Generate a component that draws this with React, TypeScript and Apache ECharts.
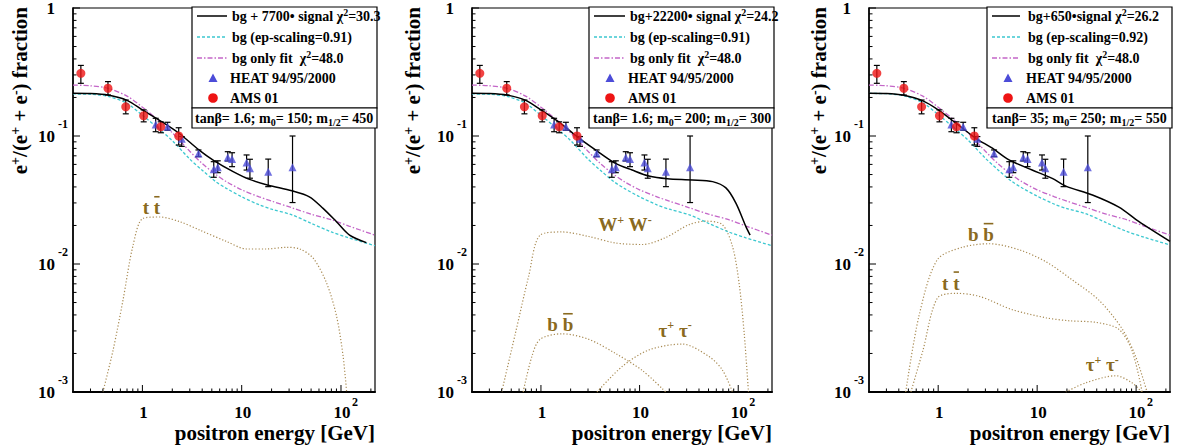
import React, { useEffect, useRef } from "react";
import * as echarts from "echarts";

const SERIF = '"Liberation Serif", "Times New Roman", Times, serif';
const X_MIN = 0.2;
const X_MAX = 220;
const Y_MIN = 0.001;
const Y_MAX = 1;

const BLUE = "#4c4cd8";
const RED = "#ee1414";
const CYAN = "#3cc8d0";
const MAGENTA = "#c466c8";
const BROWN_LINE = "#a88a52";
const BROWN_TEXT = "#8a6a20";

// AMS 01 positron fraction
const AMS_E = [0.24, 0.45, 0.68, 1.03, 1.53, 2.32];
const AMS_F = [0.309, 0.236, 0.169, 0.144, 0.118, 0.1];
const AMS_LO = [0.258, 0.209, 0.149, 0.129, 0.106, 0.085];
const AMS_HI = [0.356, 0.266, 0.191, 0.16, 0.129, 0.116];

// HEAT 94/95/2000 positron fraction
const HEAT_E = [1.36, 1.79, 2.49, 3.67, 5.23, 5.74, 7.24, 8.0, 11.2, 12.1, 18.5, 32.5];
const HEAT_F = [0.123, 0.118, 0.095, 0.073, 0.055, 0.057, 0.068, 0.066, 0.062, 0.056, 0.0526, 0.057];
const HEAT_LO = [0.108, 0.111, 0.083, 0.069, 0.0476, 0.0517, 0.0638, 0.0576, 0.0542, 0.0468, 0.0402, 0.0302];
const HEAT_HI = [0.1375, 0.128, 0.099, 0.0778, 0.063, 0.064, 0.0754, 0.074, 0.0711, 0.0658, 0.066, 0.1];

// background curves
const BG_E = [0.2, 0.3, 0.45, 0.7, 1.0, 1.5, 2.0, 3.0, 4.0, 5.5, 7.0, 10, 15, 20, 32, 50, 80, 120, 220];
const BG91_F = [0.213, 0.212, 0.204, 0.18, 0.145, 0.112, 0.092, 0.066, 0.054, 0.0439, 0.039, 0.0335, 0.029, 0.0268, 0.0242, 0.0208, 0.0178, 0.016, 0.0139];
const BG92_F = [0.215, 0.214, 0.206, 0.182, 0.147, 0.113, 0.093, 0.067, 0.0546, 0.0444, 0.0394, 0.0339, 0.0293, 0.0271, 0.0245, 0.021, 0.018, 0.0162, 0.0141];
const BGFIT_F = [0.25, 0.247, 0.236, 0.205, 0.168, 0.13, 0.106, 0.076, 0.061, 0.05, 0.044, 0.038, 0.0335, 0.031, 0.0275, 0.0245, 0.0222, 0.0198, 0.0168];

// tanβ = 1.6, m0 = 150, m1/2 = 450
const SIG1_E = [0.2, 0.3, 0.45, 0.7, 1.0, 1.5, 2.3, 3.7, 5.2, 8.2, 12, 18.5, 32, 48, 66, 90, 122, 180];
const SIG1_F = [0.216, 0.215, 0.209, 0.19, 0.16, 0.132, 0.106, 0.078, 0.0646, 0.0527, 0.0458, 0.0413, 0.0373, 0.0335, 0.0272, 0.0214, 0.0168, 0.0147];
const TT1_E = [0.4, 0.505, 0.637, 0.8, 1.01, 1.49, 2.38, 3.78, 7.03, 11.2, 17.8, 28.3, 38.5, 52.5, 71.6, 90.3, 105, 114];
const TT1_F = [0.001, 0.0021, 0.0052, 0.0137, 0.0227, 0.0233, 0.0214, 0.0184, 0.015, 0.0131, 0.0131, 0.0135, 0.0131, 0.0111, 0.0071, 0.0039, 0.0019, 0.001];

// tanβ = 1.6, m0 = 200, m1/2 = 300
const SIG2_E = [0.2, 0.3, 0.45, 0.7, 1.0, 1.51, 2.32, 3.57, 5.7, 8.4, 12.4, 19.1, 34.3, 55, 75, 95, 120, 132];
const SIG2_F = [0.216, 0.215, 0.209, 0.19, 0.16, 0.129, 0.099, 0.078, 0.0611, 0.0542, 0.0487, 0.0464, 0.0454, 0.044, 0.0393, 0.0298, 0.0195, 0.0168];
const WW2_E = [0.4, 0.55, 0.75, 0.98, 1.63, 3.05, 5.7, 10.7, 18.4, 31.7, 46.9, 69, 87.5, 102, 115, 127];
const WW2_F = [0.001, 0.00286, 0.008, 0.0168, 0.0178, 0.0164, 0.0146, 0.0142, 0.0161, 0.0203, 0.0216, 0.0203, 0.0137, 0.0071, 0.00286, 0.001];
const BB2_E = [0.66, 0.81, 0.98, 1.63, 3.05, 5.7, 10.7, 18.4];
const BB2_F = [0.001, 0.0019, 0.00258, 0.00285, 0.00258, 0.002, 0.00147, 0.001];
const TAU2_E = [3.7, 6.65, 12.4, 27.1, 50.7, 69, 87.5];
const TAU2_F = [0.001, 0.00158, 0.00213, 0.00237, 0.00189, 0.00149, 0.001];

// tanβ = 35, m0 = 250, m1/2 = 550
const SIG3_E = [0.2, 0.3, 0.45, 0.7, 1.0, 1.51, 2.4, 3.53, 5.2, 8.9, 14.2, 19.5, 36.2, 67, 107, 220];
const SIG3_F = [0.216, 0.215, 0.208, 0.188, 0.16, 0.126, 0.096, 0.0804, 0.065, 0.0543, 0.0466, 0.0406, 0.0346, 0.0278, 0.0214, 0.015];
const BB3_E = [0.47, 0.64, 0.98, 1.75, 3.27, 6.6, 12.3, 22.7, 42.3, 72.5, 99, 129];
const BB3_F = [0.001, 0.00393, 0.0108, 0.0135, 0.0144, 0.0129, 0.0104, 0.0075, 0.0052, 0.0031, 0.00189, 0.001];
const TT3_E = [0.53, 0.7, 0.98, 1.51, 2.59, 5.6, 12.3, 21.1, 39.2, 66.7, 91, 115];
const TT3_F = [0.001, 0.0021, 0.0054, 0.0059, 0.0056, 0.0044, 0.0038, 0.0036, 0.0035, 0.0031, 0.0021, 0.001];
const TAU3_E = [19.5, 31, 62.5, 91, 110, 113];
const TAU3_F = [0.001, 0.00118, 0.00134, 0.00118, 0.00103, 0.001];

// channel names, placed at (energy, fraction)
const CH1 = [{ e: 1.23, f: 0.0274, text: "t t", bar: true }];
const CH2 = [
  { e: 7.1, f: 0.0202, text: "W{s|+} W{s|-}", bar: false },
  { e: 1.57, f: 0.00334, text: "b b", bar: true },
  { e: 22.9, f: 0.00305, text: "τ{s|+} τ{s|-}", bar: false },
];
const CH3 = [
  { e: 2.7, f: 0.0169, text: "b b", bar: true },
  { e: 1.34, f: 0.00707, text: "t t", bar: true },
  { e: 45.5, f: 0.00163, text: "τ{s|+} τ{s|-}", bar: false },
];

// legend texts
const LEG_SIGNAL = ["bg + 7700• signal χ{s|2}=30.3", "bg+22200• signal χ{s|2}=24.2", "bg+650•signal χ{s|2}=26.2"];
const LEG_BG = ["bg (ep-scaling=0.91)", "bg (ep-scaling=0.91)", "bg (ep-scaling=0.92)"];
const LEG_FIT = "bg only fit  χ{s|2}=48.0";
const LEG_HEAT = "HEAT 94/95/2000";
const LEG_AMS = "AMS 01";
const LEG_PARAMS = [
  "tanβ= 1.6; m{sub|0}= 150; m{sub|1/2}= 450",
  "tanβ= 1.6; m{sub|0}= 200; m{sub|1/2}= 300",
  "tanβ= 35; m{sub|0}= 250; m{sub|1/2}= 550",
];

// axis ticks
const X_DECADES = [0.1, 1, 10, 100];
const Y_DECADES = [0.001, 0.01, 0.1];
const X_MAJOR = [1, 10, 100];
const X_MAJOR_LABELS = [["1", ""], ["10", ""], ["10", "2"]];
const Y_MAJOR = [0.001, 0.01, 0.1, 1];
const Y_MAJOR_LABELS = [["10", "-3"], ["10", "-2"], ["10", "-1"], ["1", ""]];

const TOP = 8;
const HEIGHT = 384;
const PANELS = [
  { left: 73, width: 302, titleX: 20, bx: 192, s0: 197, s1: 227, tx: 232, mx: 213, lx: 195,
    bg: BG91_F, sig: [SIG1_E, SIG1_F], ch: [[TT1_E, TT1_F]], labels: CH1 },
  { left: 472, width: 300, titleX: 413, bx: 589, s0: 594, s1: 625, tx: 630, mx: 610, lx: 593,
    bg: BG91_F, sig: [SIG2_E, SIG2_F], ch: [[WW2_E, WW2_F], [BB2_E, BB2_F], [TAU2_E, TAU2_F]], labels: CH2 },
  { left: 869, width: 301, titleX: 819, bx: 987, s0: 992, s1: 1020, tx: 1028, mx: 1008, lx: 992,
    bg: BG92_F, sig: [SIG3_E, SIG3_F], ch: [[BB3_E, BB3_F], [TT3_E, TT3_F], [TAU3_E, TAU3_F]], labels: CH3 },
];
const ROW_Y = [16, 37, 58, 78, 98];

const RICH = {
  s: { fontSize: 10, fontWeight: "bold", fontFamily: SERIF, verticalAlign: "top", lineHeight: 8 },
  sub: { fontSize: 10, fontWeight: "bold", fontFamily: SERIF, verticalAlign: "bottom", lineHeight: 9 },
};

let measureCtx: CanvasRenderingContext2D | null = null;
function textWidth(text: string, font: string): number {
  if (!measureCtx) measureCtx = document.createElement("canvas").getContext("2d");
  if (!measureCtx) return text.length * 9;
  measureCtx.font = font;
  return measureCtx.measureText(text).width;
}

const zip = (a: number[], b: number[]) => a.map((v, i) => [v, b[i]]);

function buildTicks(): number[][] {
  const t: number[][] = [];
  X_DECADES.forEach((d) => {
    for (let m = 2; m <= 9; m++) {
      const v = +(d * m).toPrecision(3);
      if (v > X_MIN && v < X_MAX) t.push([v, Y_MIN, 0, -1]);
    }
  });
  X_MAJOR.forEach((v, k) => t.push([v, Y_MIN, 1, k]));
  Y_DECADES.forEach((d) => {
    for (let m = 2; m <= 9; m++) t.push([X_MIN, +(d * m).toPrecision(3), 2, -1]);
  });
  Y_MAJOR.forEach((v, k) => t.push([X_MIN, v, 3, k]));
  return t;
}

function renderTick(_params: any, api: any) {
  const kind = api.value(2) as number;
  const k = api.value(3) as number;
  const p = api.coord([api.value(0), api.value(1)]);
  const stroke = { stroke: "#000", lineWidth: 1 };
  const font = { fontWeight: "bold", fontFamily: SERIF, fill: "#000" };
  const children: any[] = [];
  if (kind <= 1) {
    const len = kind === 1 ? 7 : 3.5;
    children.push({ type: "line", shape: { x1: p[0], y1: p[1], x2: p[0], y2: p[1] - len }, style: stroke });
    if (kind === 1) {
      const [base, exp] = X_MAJOR_LABELS[k];
      children.push({ type: "text", x: p[0] + 1, y: p[1] + 20,
        style: { ...font, text: base, fontSize: 17, lineHeight: 17, align: "center", verticalAlign: "middle" } });
      if (exp) children.push({ type: "text", x: p[0] + 11, y: p[1] + 10,
        style: { ...font, text: exp, fontSize: 12, lineHeight: 12, align: "left", verticalAlign: "middle" } });
    }
  } else {
    const len = kind === 3 ? 7 : 3.5;
    children.push({ type: "line", shape: { x1: p[0], y1: p[1], x2: p[0] + len, y2: p[1] }, style: stroke });
    if (kind === 3) {
      const [base, exp] = Y_MAJOR_LABELS[k];
      children.push({ type: "text", x: p[0] - 18, y: p[1],
        style: { ...font, text: base, fontSize: 17, lineHeight: 17, align: "right", verticalAlign: "middle" } });
      if (exp) children.push({ type: "text", x: p[0] - 15, y: p[1] - 12,
        style: { ...font, text: exp, fontSize: 12, lineHeight: 12, align: "left", verticalAlign: "middle" } });
    }
  }
  return { type: "group", children };
}

function renderErrorBar(_params: any, api: any) {
  const x = api.value(0);
  const a = api.coord([x, api.value(3)]);
  const b = api.coord([x, api.value(2)]);
  const st = { stroke: "#000", lineWidth: 1.2 };
  const cw = 3;
  return {
    type: "group",
    children: [
      { type: "line", shape: { x1: a[0], y1: a[1], x2: b[0], y2: b[1] }, style: st },
      { type: "line", shape: { x1: a[0] - cw, y1: a[1], x2: a[0] + cw, y2: a[1] }, style: st },
      { type: "line", shape: { x1: b[0] - cw, y1: b[1], x2: b[0] + cw, y2: b[1] }, style: st },
    ],
  };
}

function makeLabelRenderer(defs: { text: string; bar: boolean }[]) {
  return (params: any, api: any) => {
    const def = defs[params.dataIndex];
    const p = api.coord([api.value(0), api.value(1)]);
    const size = 19;
    const children: any[] = [
      { type: "text", x: p[0], y: p[1],
        style: { text: def.text, fontSize: size, fontWeight: "bold", fontFamily: SERIF, fill: BROWN_TEXT,
          align: "center", verticalAlign: "middle", lineHeight: 22,
          rich: { s: { fontSize: 12, fontWeight: "bold", fontFamily: SERIF, fill: BROWN_TEXT, verticalAlign: "top", lineHeight: 8 } } } },
    ];
    if (def.bar) {
      const font = `bold ${size}px ${SERIF}`;
      const full = textWidth(def.text, font);
      const pre = textWidth(def.text.slice(0, -1), font);
      const last = textWidth(def.text.slice(-1), font);
      const x0 = p[0] - full / 2 + pre;
      children.push({ type: "rect", shape: { x: x0 + 0.5, y: p[1] - 12, width: last - 1, height: 1.6 }, style: { fill: BROWN_TEXT } });
    }
    return { type: "group", children };
  };
}

function legendElements(i: number): any[] {
  const P = PANELS[i];
  const right = P.left + P.width + 2;
  const txt = (x: number, y: number, text: string) => ({
    type: "text", x, y, z: 101,
    style: { text, fill: "#000", fontSize: 14, fontWeight: "bold", fontFamily: SERIF, align: "left",
      verticalAlign: "middle", lineHeight: 18, rich: RICH },
  });
  const sample = (y: number, stroke: string, width: number, dash: number[] | null) => ({
    type: "line", z: 101, shape: { x1: P.s0, y1: y, x2: P.s1, y2: y },
    style: { stroke, lineWidth: width, lineDash: dash || undefined },
  });
  const my3 = ROW_Y[3];
  return [
    { type: "rect", z: 100, shape: { x: P.bx, y: 7, width: right - P.bx, height: 101 },
      style: { fill: "#fff", stroke: "#000", lineWidth: 1.2 } },
    { type: "rect", z: 100, shape: { x: P.bx, y: 108, width: right - P.bx, height: 20 },
      style: { fill: "#fff", stroke: "#000", lineWidth: 1.2 } },
    sample(ROW_Y[0], "#000", 1.5, null),
    sample(ROW_Y[1], CYAN, 1.3, [3, 2]),
    sample(ROW_Y[2], MAGENTA, 1.3, [5, 2, 1.5, 2]),
    { type: "polygon", z: 101, shape: { points: [[P.mx - 4.5, my3 + 4], [P.mx + 4.5, my3 + 4], [P.mx, my3 - 4.5]] },
      style: { fill: BLUE } },
    { type: "circle", z: 101, shape: { cx: P.mx, cy: ROW_Y[4], r: 4.8 }, style: { fill: RED } },
    txt(P.tx, ROW_Y[0], LEG_SIGNAL[i]),
    txt(P.tx, ROW_Y[1], LEG_BG[i]),
    txt(P.tx, ROW_Y[2], LEG_FIT),
    txt(P.tx - 2, ROW_Y[3], LEG_HEAT),
    txt(P.tx - 2, ROW_Y[4], LEG_AMS),
    txt(P.lx, 118, LEG_PARAMS[i]),
    { type: "text", x: P.left + P.width, y: 433, z: 101,
      style: { text: "positron energy [GeV]", fill: "#000", fontSize: 21, lineHeight: 21, fontWeight: "bold",
        fontFamily: SERIF, align: "right", verticalAlign: "middle" } },
    { type: "text", x: P.titleX, y: 7, rotation: Math.PI / 2, z: 101,
      style: { text: "e{t|+}/(e{t|+} + e{t|-}) fraction", fill: "#000", fontSize: 21, fontWeight: "bold",
        fontFamily: SERIF, align: "right", verticalAlign: "middle", lineHeight: 24,
        rich: { t: { fontSize: 14, fontWeight: "bold", fontFamily: SERIF, verticalAlign: "top", lineHeight: 9 } } } },
  ];
}

function buildOption(): any {
  const series: any[] = [];
  const ticks = buildTicks();
  PANELS.forEach((P, i) => {
    const ax = { xAxisIndex: i, yAxisIndex: i };
    const line = (data: number[][], color: string, width: number, type: any, z: number) => ({
      type: "line", ...ax, data, symbol: "none", showSymbol: false, smooth: 0.3, silent: true, z,
      lineStyle: { color, width, type }, clip: true,
    });
    P.ch.forEach(([e, f]) => series.push(line(zip(e, f), BROWN_LINE, 1.2, [1.2, 2], 2)));
    series.push(line(zip(BG_E, P.bg), CYAN, 1.3, [3, 2], 2));
    series.push(line(zip(BG_E, BGFIT_F), MAGENTA, 1.3, [5, 2, 1.5, 2], 2));
    series.push(line(zip(P.sig[0], P.sig[1]), "#000", 1.5, "solid", 3));
    series.push({
      type: "custom", ...ax, z: 4, silent: true, renderItem: renderErrorBar, encode: { x: 0, y: 1 },
      data: [...AMS_E.map((e, k) => [e, AMS_F[k], AMS_LO[k], AMS_HI[k]]),
             ...HEAT_E.map((e, k) => [e, HEAT_F[k], HEAT_LO[k], HEAT_HI[k]])],
    });
    series.push({ type: "scatter", ...ax, z: 5, silent: true, symbol: "triangle", symbolSize: 8,
      itemStyle: { color: BLUE }, data: zip(HEAT_E, HEAT_F) });
    series.push({ type: "scatter", ...ax, z: 5, silent: true, symbol: "circle", symbolSize: 9,
      itemStyle: { color: RED }, data: zip(AMS_E, AMS_F) });
    series.push({ type: "custom", ...ax, z: 6, silent: true, renderItem: makeLabelRenderer(P.labels),
      encode: { x: 0, y: 1 }, data: P.labels.map((l, k) => [l.e, l.f, k]) });
    series.push({ type: "custom", ...ax, z: 6, silent: true, renderItem: renderTick,
      encode: { x: 0, y: 1 }, data: ticks });
  });

  return {
    animation: false,
    backgroundColor: "#fff",
    grid: PANELS.map((P) => ({ left: P.left, top: TOP, width: P.width, height: HEIGHT, show: true,
      borderColor: "#000", borderWidth: 1.2, backgroundColor: "transparent" })),
    xAxis: PANELS.map((_, i) => ({
      type: "log", logBase: 10, gridIndex: i, min: X_MIN, max: X_MAX,
      axisLine: { show: true, lineStyle: { color: "#000", width: 2 } },
      axisTick: { show: false }, axisLabel: { show: false }, splitLine: { show: false },
    })),
    yAxis: PANELS.map((_, i) => ({
      type: "log", logBase: 10, gridIndex: i, min: Y_MIN, max: Y_MAX,
      axisLine: { show: true, lineStyle: { color: "#000", width: 1.5 } },
      axisTick: { show: false }, axisLabel: { show: false }, splitLine: { show: false },
    })),
    graphic: { elements: PANELS.flatMap((_, i) => legendElements(i)) },
    series,
  };
}

export default function App() {
  const ref = useRef<HTMLDivElement>(null);
  useEffect(() => {
    if (!ref.current) return;
    const chart = echarts.init(ref.current, null, { renderer: "svg", width: 1178, height: 448 });
    chart.setOption(buildOption());
    return () => chart.dispose();
  }, []);
  return (
    <div
      ref={ref}
      style={{ position: "absolute", left: 0, top: 0, width: 1178, height: 448, background: "#fff" }}
    />
  );
}
